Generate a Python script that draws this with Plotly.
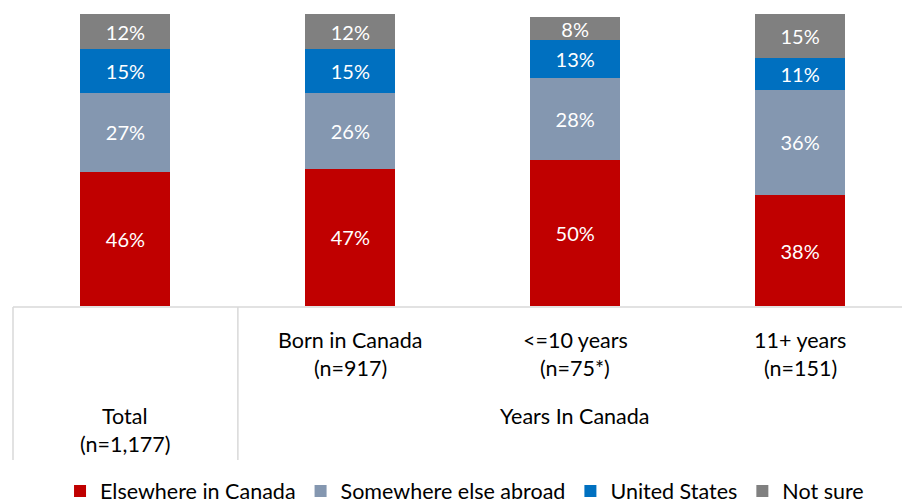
import plotly.graph_objects as go

categories = ["Total", "Born in Canada", "<=10 years", "11+ years"]
sample_sizes = ["(n=1,177)", "(n=917)", "(n=75*)", "(n=151)"]
group_label = "Years In Canada"

series_names = ["Elsewhere in Canada", "Somewhere else abroad", "United States", "Not sure"]
elsewhere_canada = [46, 47, 50, 38]
somewhere_abroad = [27, 26, 28, 36]
united_states = [15, 15, 13, 11]
not_sure = [12, 12, 8, 15]
series_values = [elsewhere_canada, somewhere_abroad, united_states, not_sure]
colors = ["#C00000", "#8497B0", "#0070C0", "#808080"]

FONT = "Lato"
W, H = 902, 504
PLOT_TOP, PLOT_BOT = 14, 306
PLOT_LEFT = 12.5
CAT_W = 225.0
LABEL_SIZE = 21.5

def py(p):
    return (PLOT_BOT - p) / (PLOT_BOT - PLOT_TOP)

x_idx = list(range(len(categories)))

fig = go.Figure()
for name, vals, col in zip(series_names, series_values, colors):
    fig.add_trace(go.Bar(
        x=x_idx, y=vals, name=name, marker=dict(color=col, line=dict(width=0)),
        width=0.4, text=[f"{v}%" for v in vals], textposition="inside",
        insidetextanchor="middle", textangle=0, constraintext="none",
        textfont=dict(color="white", size=20, family=FONT),
        hoverinfo="skip",
    ))

xmax = (W - PLOT_LEFT) / CAT_W - 0.5

lab_font = dict(size=LABEL_SIZE, family=FONT, color="#000000")

def label(x, ypix, text):
    return dict(x=x, y=py(ypix), xref="x", yref="paper", text=text, showarrow=False,
                xanchor="center", yanchor="middle", font=lab_font)

annotations = [label(0, 416, categories[0]), label(0, 444, sample_sizes[0])]
for i in range(1, len(categories)):
    annotations.append(label(i, 340, categories[i]))
    annotations.append(label(i, 368, sample_sizes[i]))
annotations.append(label(2, 416, group_label))

line_col = "#D9D9D9"
shapes = [
    dict(type="line", xref="paper", yref="paper", x0=0, x1=1, y0=py(307), y1=py(307),
         line=dict(color=line_col, width=1.5)),
    dict(type="line", xref="paper", yref="paper", x0=0, x1=0, y0=py(307), y1=py(460),
         line=dict(color=line_col, width=1.5)),
    dict(type="line", xref="x", yref="paper", x0=0.5, x1=0.5, y0=py(307), y1=py(460),
         line=dict(color=line_col, width=1.5)),
]

fig.update_layout(
    barmode="stack",
    width=W, height=H,
    margin=dict(l=PLOT_LEFT, r=0, t=PLOT_TOP, b=H - PLOT_BOT, autoexpand=False),
    plot_bgcolor="white", paper_bgcolor="white",
    font=dict(family=FONT, color="#000000"),
    xaxis=dict(range=[-0.5, xmax], showticklabels=False, showgrid=False, zeroline=False,
               showline=False, ticks=""),
    yaxis=dict(range=[0, 100], visible=False, showgrid=False, zeroline=False),
    showlegend=True,
    legend=dict(orientation="h", xref="container", x=0.515, xanchor="center",
                yref="container", y=(H - 491) / H, yanchor="middle",
                font=dict(size=21.5, family=FONT, color="#000000"),
                traceorder="normal", itemwidth=30),
    annotations=annotations,
    shapes=shapes,
)

fig.write_html("out.html", config={"displayModeBar": False},
               post_script="document.body.style.margin='0';")
